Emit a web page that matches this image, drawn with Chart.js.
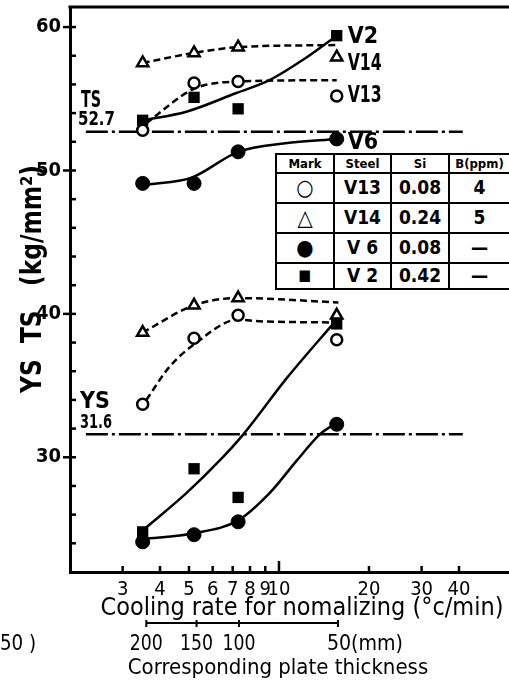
<!DOCTYPE html>
<html>
<head>
<meta charset="utf-8">
<script src="https://cdn.jsdelivr.net/npm/chart.js@4/dist/chart.umd.min.js"></script>
<style>
  body { margin: 0; background: #fff; overflow: hidden; }
  #wrap { position: relative; width: 509px; height: 682px; }
  #legend {
    position: absolute; left: 275px; top: 153px; width: 234px; height: 137px;
    border-collapse: collapse; background: #fff; table-layout: fixed;
    font-family: "DejaVu Sans Condensed", "DejaVu Sans", sans-serif; color: #000;
  }
  #legend td { border: 2.5px solid #000; text-align: center; padding: 0; font-size: 19px; font-weight: bold; line-height: 1; }
  #legend tr.head td { font-size: 13px; }
  #legend td.mark { font-size: 22px; }
  #legend td.mark.sq { font-size: 15px; }
</style>
</head>
<body>
<div id="wrap">
  <canvas id="chart" width="509" height="682"></canvas>
  <table id="legend">
    <colgroup><col style="width:58px"><col style="width:57px"><col style="width:58px"><col style="width:61px"></colgroup>
    <tr class="head"><td>Mark</td><td>Steel</td><td>Si</td><td>B(ppm)</td></tr>
    <tr><td class="mark">○</td><td>V13</td><td>0.08</td><td>4</td></tr>
    <tr><td class="mark">△</td><td>V14</td><td>0.24</td><td>5</td></tr>
    <tr><td class="mark">●</td><td>V 6</td><td>0.08</td><td>—</td></tr>
    <tr><td class="mark sq">■</td><td>V 2</td><td>0.42</td><td>—</td></tr>
  </table>
</div>
<script>
// measured points, cooling rate (°C/min)
const coolingRate = [3.5, 5.2, 7.3, 15.6];
const tsV13 = [52.8, 56.1, 56.2, 55.2];
const tsV14 = [57.5, 58.2, 58.6, 57.9];
const tsV6 = [49.1, 49.1, 51.3, 52.2];
const tsV2 = [53.5, 55.1, 54.3, 59.4];
const ysV13 = [33.7, 38.3, 39.9, 38.2];
const ysV14 = [38.7, 40.6, 41.1, 39.9];
const ysV6 = [24.1, 24.6, 25.5, 32.3];
const ysV2 = [24.8, 29.2, 27.2, 39.3];

// hand drawn fit curves
const tsV14CurveX = [3.5, 5.2, 7.3, 15.8];
const tsV14CurveY = [57.5, 58.2, 58.6, 58.75];
const tsV13CurveX = [3.6, 5.2, 7.3, 15.6];
const tsV13CurveY = [53.3, 55.7, 56.2, 56.3];
const tsV2CurveX = [3.5, 4.9, 7.2, 9.3, 12.0, 15.6];
const tsV2CurveY = [53.5, 54.1, 55.4, 56.3, 57.7, 59.4];
const tsV6CurveX = [3.6, 5.1, 7.3, 10.5, 15.6];
const tsV6CurveY = [49.0, 49.5, 51.3, 51.9, 52.2];
const ysV14CurveX = [3.5, 5.2, 7.3, 15.8];
const ysV14CurveY = [38.7, 40.6, 41.1, 40.8];
const ysV13CurveX = [3.6, 4.3, 5.3, 7.3, 8.3, 15.4];
const ysV13CurveY = [34.0, 36.3, 38.0, 39.6, 39.5, 39.4];
const ysV2CurveX = [3.5, 4.9, 6.35, 7.6, 10.6, 15.6];
const ysV2CurveY = [24.9, 27.5, 29.8, 31.6, 35.5, 39.6];
const ysV6CurveX = [3.5, 5.2, 7.3, 9.3, 11.5, 13.7, 15.6];
const ysV6CurveY = [24.3, 24.7, 25.6, 27.5, 29.8, 31.6, 32.4];

// reference levels
const refTS = 52.7;
const refYS = 31.6;
const refLineX = [2.26, 41.2];

// axes
const xTickLabels = [3, 4, 5, 6, 7, 8, 9, 10, 20, 30, 40];
const yTickLabels = [30, 40, 50, 60];
const yMinorTicks = [24, 26, 28, 30, 32, 34, 36, 38, 40, 42, 44, 46, 48, 50, 52, 54, 56, 58, 60];

// secondary scale: plate thickness vs cooling rate
const plateThickness = [200, 150, 100, 50];
const plateCoolingRate = [3.6, 5.3, 7.35, 15.75];

const seriesNames = ['V2', 'V14', 'V13', 'V6'];

const FONT = '"DejaVu Sans Condensed", "DejaVu Sans", sans-serif';

const pts = (xs, ys) => xs.map((x, i) => ({ x: x, y: ys[i] }));

function markers(ys, style) {
  return Object.assign({
    data: pts(coolingRate, ys), showLine: false, order: 0,
    borderColor: '#000', borderWidth: 2.5
  }, style);
}
const openCircle = { pointStyle: 'circle', pointRadius: 5.5, backgroundColor: '#fff' };
const openTri = { pointStyle: 'triangle', pointRadius: 6.5, backgroundColor: '#fff' };
const fullCircle = { pointStyle: 'circle', pointRadius: 7, backgroundColor: '#000', borderWidth: 1 };
const fullSquare = { pointStyle: 'rect', pointRadius: 8, backgroundColor: '#000', borderWidth: 0 };

function curve(xs, ys, dashed) {
  return {
    data: pts(xs, ys), showLine: true, pointRadius: 0, order: 1,
    borderColor: '#000', borderWidth: 2.5, borderDash: dashed ? [7, 4] : [],
    cubicInterpolationMode: 'monotone'
  };
}
function refLine(v) {
  return {
    data: refLineX.map(x => ({ x: x, y: v })), showLine: true, pointRadius: 0, order: 2,
    borderColor: '#000', borderWidth: 2.5, borderDash: [22, 4, 3, 4]
  };
}

function txt(ctx, s, x, y, size, align, maxW, weight) {
  ctx.font = (weight || 'normal') + ' ' + size + 'px ' + FONT;
  ctx.textAlign = align || 'left';
  ctx.textBaseline = 'middle';
  if (maxW) ctx.fillText(s, x, y, maxW); else ctx.fillText(s, x, y);
}

function noPad(s) {
  s.paddingTop = 0; s.paddingBottom = 0; s.paddingLeft = 0; s.paddingRight = 0;
}

const extras = {
  id: 'extras',
  afterDraw(chart) {
    const { ctx, chartArea: a, scales: { x, y } } = chart;
    ctx.save();
    ctx.strokeStyle = '#000';
    ctx.fillStyle = '#000';
    // top frame
    ctx.lineWidth = 3;
    ctx.beginPath(); ctx.moveTo(a.left - 1.5, a.top); ctx.lineTo(a.right, a.top); ctx.stroke();
    // y ticks
    ctx.lineWidth = 2.5;
    y.ticks.forEach(t => {
      const py = y.getPixelForValue(t.value);
      const major = yTickLabels.includes(t.value);
      ctx.beginPath(); ctx.moveTo(a.left - (major ? 7 : 0), py); ctx.lineTo(a.left + 6, py); ctx.stroke();
    });
    // x ticks, inward
    x.ticks.forEach(t => {
      const px = x.getPixelForValue(t.value);
      ctx.beginPath(); ctx.moveTo(px, a.bottom); ctx.lineTo(px, a.bottom - (t.value === 10 ? 11 : 6)); ctx.stroke();
    });

    // reference level labels
    txt(ctx, 'TS', 81, 101, 23, 'left', 20, 'bold');
    txt(ctx, String(refTS), 78, 120, 20, 'left', 37, 'bold');
    txt(ctx, 'YS', 80, 402, 23, 'left', 30, 'bold');
    txt(ctx, String(refYS), 80, 423, 20, 'left', 32, 'bold');

    // steel labels at the curve ends
    const last = coolingRate.length - 1;
    const ends = [tsV2[last], tsV14[last], tsV13[last], tsV6[last]];
    const dy = [1, 7, 0, 4];
    seriesNames.forEach((n, i) => {
      const px = x.getPixelForValue(coolingRate[last]);
      const py = y.getPixelForValue(ends[i]);
      txt(ctx, n, px + 11, py + dy[i], 23, 'left', 34, 'bold');
    });

    // y title
    ctx.save();
    ctx.translate(34, 279);
    ctx.rotate(-Math.PI / 2);
    txt(ctx, 'YS  TS   (kg/mm²)', 0, 0, 28, 'center', 228, 'bold');
    ctx.restore();

    // x title
    txt(ctx, 'Cooling rate for nomalizing (°c/min)', 302, 608, 25, 'center', 403);

    // plate thickness scale
    const sy = 623;
    const p0 = x.getPixelForValue(plateCoolingRate[0]);
    const p1 = x.getPixelForValue(plateCoolingRate[plateCoolingRate.length - 1]);
    ctx.lineWidth = 2;
    ctx.beginPath(); ctx.moveTo(p0, sy); ctx.lineTo(p1, sy); ctx.stroke();
    plateCoolingRate.forEach((c, i) => {
      const px = x.getPixelForValue(c);
      ctx.beginPath(); ctx.moveTo(px, sy - 3); ctx.lineTo(px, sy + 4); ctx.stroke();
      const lbl = String(plateThickness[i]);
      if (i === plateThickness.length - 1) {
        txt(ctx, lbl + '(mm)', px - 11, 644, 22, 'left', 76);
      } else {
        txt(ctx, lbl, px, 644, 22, 'center', 33);
      }
    });
    txt(ctx, 'Corresponding plate thickness', 278, 668, 22, 'center', 350);

    // bleed from the neighbouring page
    txt(ctx, '50 )', 0, 644, 22, 'left', 36);
    ctx.restore();
  }
};

new Chart(document.getElementById('chart'), {
  type: 'scatter',
  data: {
    datasets: [
      markers(tsV13, openCircle), markers(tsV14, openTri), markers(tsV6, fullCircle), markers(tsV2, fullSquare),
      markers(ysV13, openCircle), markers(ysV14, openTri), markers(ysV6, fullCircle), markers(ysV2, fullSquare),
      curve(tsV14CurveX, tsV14CurveY, true), curve(tsV13CurveX, tsV13CurveY, true),
      curve(tsV2CurveX, tsV2CurveY, false), curve(tsV6CurveX, tsV6CurveY, false),
      curve(ysV14CurveX, ysV14CurveY, true), curve(ysV13CurveX, ysV13CurveY, true),
      curve(ysV2CurveX, ysV2CurveY, false), curve(ysV6CurveX, ysV6CurveY, false),
      refLine(refTS), refLine(refYS)
    ]
  },
  options: {
    responsive: false,
    animation: false,
    events: [],
    layout: { autoPadding: false, padding: { top: 7, left: 0, right: 0, bottom: 0 } },
    plugins: { legend: { display: false }, tooltip: { enabled: false } },
    scales: {
      x: {
        type: 'logarithmic', min: 2, max: 58.8,
        afterBuildTicks: s => { s.ticks = xTickLabels.map(v => ({ value: v })); },
        afterFit: s => { s.height = 110; noPad(s); },
        grid: { display: false, drawTicks: false },
        border: { color: '#000', width: 3 },
        ticks: {
          autoSkip: false, maxRotation: 0, padding: 6, color: '#000',
          font: { family: FONT, size: 20 },
          callback: v => String(v)
        }
      },
      y: {
        min: 22, max: 61.4,
        afterBuildTicks: s => { s.ticks = yMinorTicks.map(v => ({ value: v })); },
        afterFit: s => { s.width = 70; noPad(s); },
        grid: { display: false, drawTicks: false },
        border: { color: '#000', width: 3 },
        ticks: {
          autoSkip: false, padding: 9, color: '#000',
          font: { family: FONT, size: 20, weight: 'bold' },
          callback: v => yTickLabels.includes(v) ? String(v) : ''
        }
      }
    }
  },
  plugins: [extras]
});
</script>
</body>
</html>
